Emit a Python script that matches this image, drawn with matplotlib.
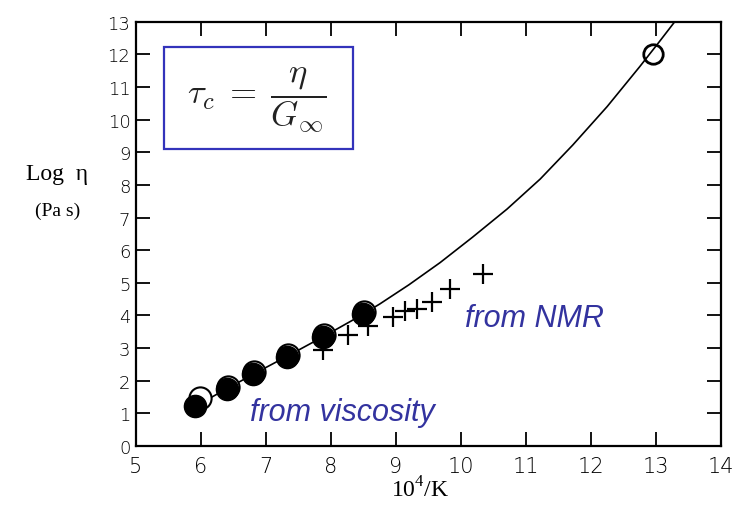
import matplotlib
matplotlib.use("Agg")
import matplotlib.pyplot as plt
from matplotlib.patches import Rectangle

# ---- data ----
visc_x = [5.91, 6.40, 6.80, 7.32, 7.88, 8.49]
visc_y = [1.22, 1.74, 2.20, 2.72, 3.33, 4.04]
visc2_x = [5.99, 6.42, 6.82, 7.34, 7.90, 8.51]
visc2_y = [1.48, 1.82, 2.28, 2.80, 3.41, 4.12]
nmr_x = [7.88, 8.27, 8.57, 8.95, 9.14, 9.32, 9.55, 9.83, 10.34]
nmr_y = [2.95, 3.39, 3.68, 3.95, 4.13, 4.19, 4.40, 4.80, 5.26]
glass_x = [12.95]
glass_y = [12.0]
curve_x = [5.90, 6.40, 6.90, 7.40, 7.90, 8.40, 8.75, 9.20, 9.68, 10.18,
           10.71, 11.22, 11.72, 12.25, 12.75, 13.05, 13.29]
curve_y = [1.20, 1.76, 2.30, 2.83, 3.37, 3.93, 4.35, 4.94, 5.62, 6.40,
           7.26, 8.18, 9.22, 10.40, 11.62, 12.38, 13.0]
xticks = [5, 6, 7, 8, 9, 10, 11, 12, 13, 14]
yticks = list(range(0, 14))

blue = '#33339f'

fig = plt.figure(figsize=(7.33, 5.10), dpi=100)
ax = fig.add_axes([0.1855, 0.1235, 0.798, 0.832])

ax.plot(curve_x, curve_y, color='black', lw=1.2, zorder=2)
ax.plot(visc2_x, visc2_y, 'o', ms=16, mfc='white', mec='black', mew=1.5, zorder=3)
ax.plot(visc_x, visc_y, 'o', ms=16, mfc='black', mec='black', zorder=4)
ax.plot(nmr_x, nmr_y, '+', ms=15, mew=1.6, color='black', zorder=3)
ax.plot(glass_x, glass_y, 'o', ms=14, mfc='none', mec='black', mew=2, zorder=3)

ax.set_xlim(5, 14)
ax.set_ylim(0, 13)
ax.set_xticks(xticks)
ax.set_yticks(yticks)
ax.tick_params(direction='in', length=10, width=1.3, top=True, right=True)
ax.tick_params(axis='x', labelsize=15, pad=7)
ax.tick_params(axis='y', labelsize=13, pad=4)
for lab in ax.get_xticklabels() + ax.get_yticklabels():
    lab.set_fontfamily('DejaVu Sans')
    lab.set_fontweight('light')
for s in ax.spines.values():
    s.set_linewidth(1.6)

# equation box
ax.add_patch(Rectangle((0.048, 0.70), 0.323, 0.24, transform=ax.transAxes,
                       fill=False, edgecolor='#3333bb', lw=1.6, zorder=5))
ax.text(0.206, 0.815, r'$\tau_c\;=\;\dfrac{\eta}{G_\infty}$', transform=ax.transAxes,
        ha='center', va='center', fontsize=25, math_fontfamily='cm', color='#222222')

ax.text(6.75, 0.80, 'from viscosity', color=blue, fontsize=22, style='italic',
        family='Liberation Sans', ha='left', va='baseline')
ax.text(10.06, 3.68, 'from NMR', color=blue, fontsize=22, style='italic',
        family='Liberation Sans', ha='left', va='baseline')

fig.text(0.078, 0.647, 'Log  η', family='Liberation Serif', fontsize=17,
         ha='center', va='baseline')
fig.text(0.079, 0.577, '(Pa s)', family='Liberation Serif', fontsize=14,
         ha='center', va='baseline')
fig.text(0.573, 0.025, r'10$^{\mathregular{4}}$/K', family='Liberation Serif',
         fontsize=17, ha='center', va='baseline')

fig.savefig('out.png', dpi=100)
